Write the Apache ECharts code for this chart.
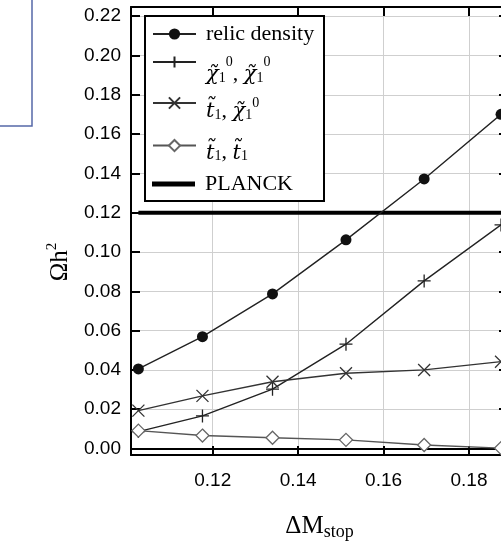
<!DOCTYPE html>
<html><head><meta charset="utf-8">
<script src="https://cdn.jsdelivr.net/npm/echarts@6/dist/echarts.min.js"></script>
<style>html,body{margin:0;padding:0;background:#fff}#c{width:501px;height:541px}</style>
</head><body><div id="c"></div>
<script>
// ---- data ----
const deltaM = [0.1026, 0.1176, 0.1340, 0.1512, 0.1695, 0.1875];
const relicDensity = [0.0405, 0.0569, 0.0787, 0.1062, 0.1372, 0.1701];
const neutralinoPair = [0.0086, 0.0166, 0.0302, 0.0531, 0.0853, 0.1138];
const stopNeutralino = [0.0193, 0.0268, 0.0340, 0.0383, 0.0400, 0.0442];
const stopPair = [0.0091, 0.0066, 0.0055, 0.0044, 0.0018, 0.0002];
const planck = 0.12;
const xTicks = [0.12, 0.14, 0.16, 0.18];
const yTicks = [0.00, 0.02, 0.04, 0.06, 0.08, 0.10, 0.12, 0.14, 0.16, 0.18, 0.20, 0.22];
const xRange = [0.10087, 0.18913];
const yRange = [-0.0033, 0.2247];

const pairs = arr => deltaM.map((x, i) => [x, arr[i]]);
const tickFmt = list => v => list.some(t => Math.abs(t - v) < 1e-7) ? v.toFixed(2) : '';

const chart = echarts.init(document.getElementById('c'), null, {renderer: 'canvas'});
const frameLine = {show: true, onZero: false, lineStyle: {color: '#000', width: 2}};
const tick = {show: true, inside: true, length: 9, lineStyle: {color: '#000', width: 2}};
const grid = {show: true, lineStyle: {color: '#cfcfcf', width: 1}};
const labelFont = {fontFamily: 'Liberation Sans, Arial, sans-serif', fontSize: 19, color: '#000'};

const serif = 'Liberation Serif, Times New Roman, serif';
const mathSerif = 'DejaVu Serif, Liberation Serif, serif';
const rich = {
  r: {fontFamily: serif, fontSize: 22, lineHeight: 24, color: '#000', padding: [0, 0, 0, 5]},
  c: {fontFamily: mathSerif, fontSize: 21, fontStyle: 'italic', lineHeight: 22, verticalAlign: 'bottom', color: '#000'},
  m: {fontFamily: serif, fontSize: 22, lineHeight: 22, verticalAlign: 'bottom', color: '#000'},
  sub: {fontFamily: serif, fontSize: 14, lineHeight: 14, verticalAlign: 'bottom', color: '#000'},
  sup: {fontFamily: serif, fontSize: 14, lineHeight: 14, verticalAlign: 'middle', color: '#000'},
  sp46: {width: 5, lineHeight: 46, fontSize: 1},
  sp38: {width: 5, lineHeight: 38, fontSize: 1},
  sp36: {width: 5, lineHeight: 36, fontSize: 1}
};
const names = ['relic density', 'chichi', 'tchi', 'tt', 'PLANCK'];
const labels = {
  'relic density': '{r|relic density}',
  'chichi': '{sp46| }{c|χ\u0303}{sub|1}{sup|0}{m|, }{c|χ\u0303}{sub|1}{sup|0}',
  'tchi': '{sp38| }{c|t\u0303}{sub|1}{m|, }{c|χ\u0303}{sub|1}{sup|0}',
  'tt': '{sp36| }{c|t\u0303}{sub|1}{m|, }{c|t\u0303}{sub|1}',
  'PLANCK': '{r|PLANCK}'
};
const legendTop = [23, 55, 96, 139, 173];
const legends = names.map((n, i) => {
  const l = {
    data: [n === 'PLANCK' ? {name: n, icon: 'rect'} : n],
    left: 152, top: legendTop[i],
    orient: 'vertical', padding: 0, itemWidth: 43, itemHeight: n === 'PLANCK' ? 5 : 14,
    selectedMode: false,
    formatter: nm => labels[nm], textStyle: {rich: rich, color: '#000'}
  };
  if (n === 'PLANCK') l.itemStyle = {color: '#000'};
  return l;
});

chart.setOption({
  animation: false,
  backgroundColor: '#fff',
  grid: {left: 131, top: 7, width: 377, height: 448, containLabel: false, outerBoundsMode: 'none'},
  graphic: [
    {type: 'rect', z: 3, shape: {x: 145, y: 16, width: 179, height: 185},
     style: {fill: '#fff', stroke: '#000', lineWidth: 2}},
    {type: 'rect', z: 3, shape: {x: -20, y: -20, width: 52, height: 146},
     style: {fill: 'none', stroke: '#5668a8', lineWidth: 1.5}}
  ],
  legend: legends,
  xAxis: [
    {type: 'value', min: xRange[0], max: xRange[1], position: 'bottom',
     axisLine: frameLine, axisTick: tick, splitLine: grid,
     axisLabel: Object.assign({margin: 16, formatter: tickFmt(xTicks)}, labelFont),
     name: '{a|ΔM}{s|stop}', nameLocation: 'middle', nameGap: 56,
     nameTextStyle: {rich: {
       a: {fontFamily: serif, fontSize: 25, lineHeight: 30, color: '#000'},
       s: {fontFamily: serif, fontSize: 18, lineHeight: 18, verticalAlign: 'bottom', color: '#000'}}}},
    {type: 'value', min: xRange[0], max: xRange[1], position: 'top',
     axisLine: frameLine, axisTick: tick, splitLine: {show: false}, axisLabel: {show: false}}
  ],
  yAxis: [
    {type: 'value', min: yRange[0], max: yRange[1], splitNumber: 11, position: 'left',
     axisLine: frameLine, axisTick: tick, splitLine: grid,
     axisLabel: Object.assign({margin: 10, formatter: tickFmt(yTicks)}, labelFont),
     name: '{a|Ωh}{s|2}', nameLocation: 'middle', nameGap: 56,
     nameTextStyle: {padding: [0, 62, 0, 0], rich: {
       a: {fontFamily: serif, fontSize: 25, lineHeight: 30, color: '#000'},
       s: {fontFamily: serif, fontSize: 15, lineHeight: 15, verticalAlign: 'top', color: '#000'}}}},
    {type: 'value', min: yRange[0], max: yRange[1], splitNumber: 11, position: 'right',
     axisLine: frameLine, axisTick: tick, splitLine: {show: false}, axisLabel: {show: false}}
  ],
  series: [
    {name: 'relic density', type: 'line', data: pairs(relicDensity),
     symbol: 'circle', symbolSize: 11,
     itemStyle: {color: '#111', borderColor: '#111', borderWidth: 0},
     lineStyle: {color: '#222', width: 1.4}, z: 5},
    {name: 'chichi', type: 'line', data: pairs(neutralinoPair),
     symbol: 'path://M5,0L5,10M0,5L10,5', symbolSize: 13,
     itemStyle: {color: '#222', borderColor: '#222', borderWidth: 1.3},
     lineStyle: {color: '#222', width: 1.4}, z: 5},
    {name: 'tchi', type: 'line', data: pairs(stopNeutralino),
     symbol: 'path://M0,0L10,10M10,0L0,10', symbolSize: 12,
     itemStyle: {color: '#333', borderColor: '#333', borderWidth: 1.3},
     lineStyle: {color: '#333', width: 1.4}, z: 5},
    {name: 'tt', type: 'line', data: pairs(stopPair),
     symbol: 'diamond', symbolSize: 13,
     itemStyle: {color: '#fff', borderColor: '#666', borderWidth: 1.3},
     lineStyle: {color: '#555', width: 1.4}, z: 5},
    {name: 'PLANCK', type: 'line', data: [[deltaM[0], planck], [xRange[1], planck]],
     symbol: 'none', itemStyle: {color: '#000'}, lineStyle: {color: '#000', width: 4}, z: 4,
     markLine: {silent: true, symbol: ['none', 'none'], label: {show: false},
       lineStyle: {color: '#000', width: 2, type: 'solid'}, data: [{yAxis: 0}]}}
  ]
});
</script></body></html>
